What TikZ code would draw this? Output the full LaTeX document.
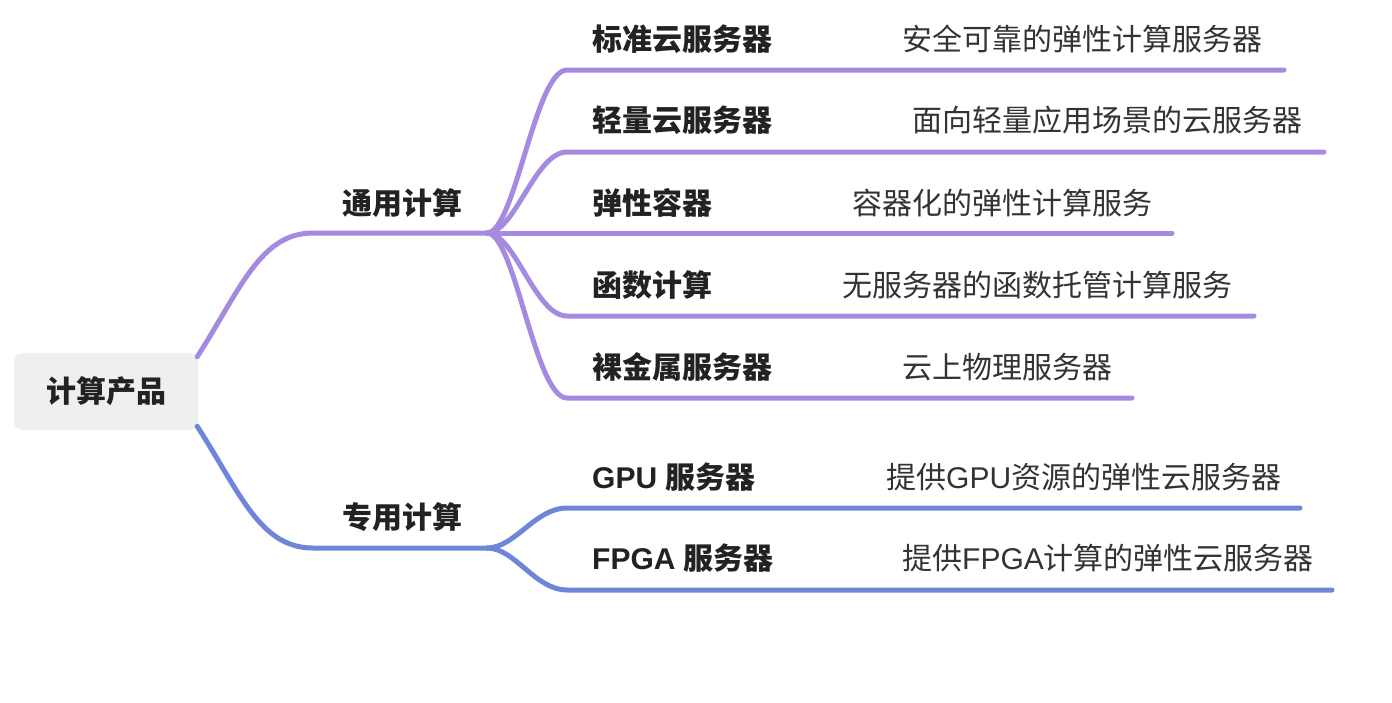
\documentclass[tikz,border=0pt]{standalone}
\usepackage{fontspec}
\setmainfont{Noto Sans CJK SC}
\newfontfamily\lat{Liberation Sans}
\definecolor{purp}{HTML}{A58BDF}
\definecolor{blu}{HTML}{6F86D8}
\definecolor{rootfill}{HTML}{EEF0F0}
\definecolor{txtdark}{HTML}{222222}
\definecolor{txtdesc}{HTML}{333333}
\begin{document}
\begin{tikzpicture}[x=1pt,y=-1pt,
  lbl/.style={anchor=west,inner sep=0pt,font=\fontsize{30}{36}\selectfont\bfseries,text=txtdark},
  desc/.style={anchor=west,inner sep=0pt,font=\fontsize{30}{36}\selectfont,text=txtdesc},
  pline/.style={draw=purp,line width=5pt,line cap=round,line join=round},
  bline/.style={draw=blu,line width=5pt,line cap=round,line join=round},
  rootbox/.style={fill=rootfill,rounded corners=8pt,minimum width=184pt,minimum height=77pt,inner sep=0pt,font=\fontsize{30}{36}\selectfont\bfseries,text=txtdark}]
\useasboundingbox (0,0) rectangle (1392,702);

\node[rootbox] (root) at (106,391.5) {计算产品};

\node[lbl] (g1) at (342,203) {通用计算};
\node[lbl] (g2) at (342,517) {专用计算};

\node[lbl] (c1) at (592,39) {标准云服务器};
\node[lbl] (c2) at (592,120) {轻量云服务器};
\node[lbl] (c3) at (592,203) {弹性容器};
\node[lbl] (c4) at (592,285) {函数计算};
\node[lbl] (c5) at (592,367) {裸金属服务器};
\node[lbl] (c6) at (592,477) {{\lat GPU }服务器};
\node[lbl] (c7) at (592,558) {{\lat FPGA }服务器};

\node[desc] (d1) at (902,39) {安全可靠的弹性计算服务器};
\node[desc] (d2) at (912,120) {面向轻量应用场景的云服务器};
\node[desc] (d3) at (852,203) {容器化的弹性计算服务};
\node[desc] (d4) at (842,285) {无服务器的函数托管计算服务};
\node[desc] (d5) at (902,367) {云上物理服务器};
\node[desc] (d6) at (886,477) {提供{\lat GPU}资源的弹性云服务器};
\node[desc] (d7) at (902,558) {提供{\lat FPGA}计算的弹性云服务器};

% named coordinates for the underline connectors
\coordinate (g1l) at (313,233);
\coordinate (g1r) at (487,233);
\coordinate (g2l) at (313,548);
\coordinate (g2r) at (487,548);
\coordinate (c1l) at (567,70);   \coordinate (c1r) at (1284,70);
\coordinate (c2l) at (567,152);  \coordinate (c2r) at (1324,152);
\coordinate (c3l) at (567,233);  \coordinate (c3r) at (1172,233);
\coordinate (c4l) at (567,316);  \coordinate (c4r) at (1254,316);
\coordinate (c5l) at (567,398);  \coordinate (c5r) at (1132,398);
\coordinate (c6l) at (567,508);  \coordinate (c6r) at (1300,508);
\coordinate (c7l) at (567,590);  \coordinate (c7r) at (1332,590);

% root to level 2
\draw[pline] ([xshift=-1pt,yshift=-4pt]root.north east) .. controls +(43,-67) and +(-53,0) .. (g1l) -- (g1r);
\draw[bline] ([xshift=-1pt,yshift=4pt]root.south east) .. controls +(43,67) and +(-53,0) .. (g2l) -- (g2r);

% level 2 to level 3
\foreach \c in {c1,c2,c3,c4,c5}
  \draw[pline] (g1r) .. controls +(28,0) and +(-32,0) .. (\c l) -- (\c r);
\foreach \c in {c6,c7}
  \draw[bline] (g2r) .. controls +(28,0) and +(-32,0) .. (\c l) -- (\c r);
\end{tikzpicture}
\end{document}
